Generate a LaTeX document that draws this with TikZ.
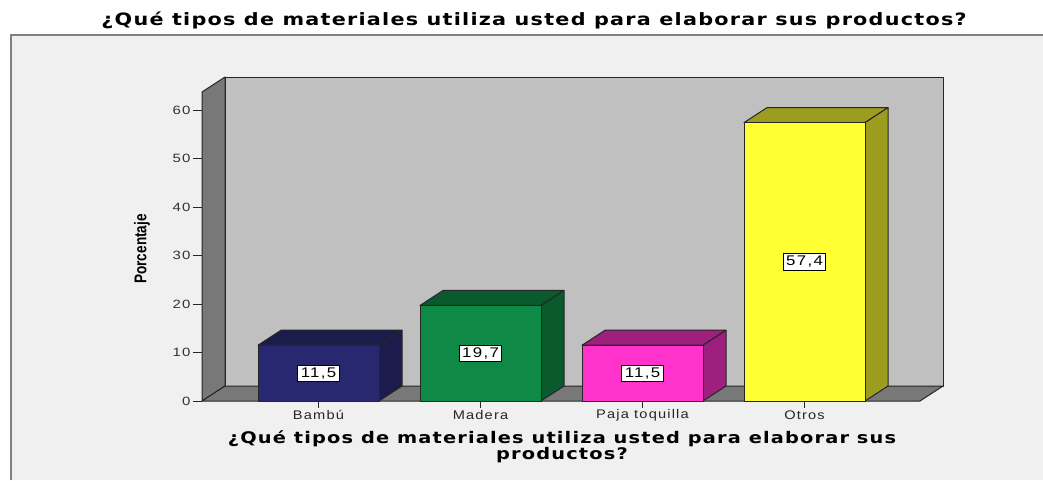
\documentclass[tikz,border=0pt]{standalone}
\usepackage{fontspec}
\setmainfont{Liberation Sans}
\newfontfamily\verd[LetterSpace=6]{DejaVu Sans}
\newfontfamily\arsp[LetterSpace=8]{Liberation Sans}
\definecolor{bgc}{HTML}{F0F0F0}
\definecolor{framec}{HTML}{808080}
\definecolor{wallc}{HTML}{C0C0C0}
\definecolor{sidewall}{HTML}{787878}
\definecolor{bambuF}{HTML}{282870}
\definecolor{bambuS}{HTML}{1C1C4C}
\definecolor{maderaF}{HTML}{0E8A46}
\definecolor{maderaS}{HTML}{0A5A2E}
\definecolor{pajaF}{HTML}{FF33CC}
\definecolor{pajaS}{HTML}{9E1F7E}
\definecolor{otrosF}{HTML}{FFFF33}
\definecolor{otrosS}{HTML}{9C9C1E}
\tikzset{
  face/.style={draw=black!85, line width=1pt, line join=round},
  valbox/.style={draw=black, fill=white, line width=0.8pt, inner xsep=2.5pt, inner ysep=2.5pt, xscale=1.2, font=\arsp\fontsize{14}{14}\selectfont},
  ticklab/.style={anchor=east, inner sep=1pt, xscale=1.25, font=\arsp\fontsize{12}{12}\selectfont, text=black!80},
  catlab/.style={xscale=1.17, font=\arsp\fontsize{12.5}{12.5}\selectfont, text=black!85},
}
\newcommand{\drawbar}[6]{% L, value, front, side, label, name
  \pgfmathsetmacro{\T}{401-#2*4.85}
  \fill[#4,face] (#1,\T) -- (#1+23,\T-15) -- (#1+144,\T-15) -- (#1+121,\T) -- cycle;
  \fill[#4,face] (#1+121,\T) -- (#1+144,\T-15) -- (#1+144,386) -- (#1+121,401) -- cycle;
  \fill[#3,face] (#1,\T) rectangle (#1+121,401);
  \node[valbox] (#6) at (#1+60.5,{(\T+401)/2}) {#5};
}
\begin{document}
\begin{tikzpicture}[x=1pt,y=-1pt]
\useasboundingbox (0,0) rectangle (1043,480);
\fill[white] (0,0) rectangle (1043,480);
\fill[bgc] (11,35) rectangle (1043,480);
\draw[framec, line width=2pt] (11,480) -- (11,35) -- (1043,35);
% title
\node[xscale=1.22, font=\verd\bfseries\fontsize{17}{17}\selectfont] (title) at (534,20) {¿Qué tipos de materiales utiliza usted para elaborar sus productos?};
% walls
\fill[wallc,face] (225,77) rectangle (943,386);
\fill[sidewall,face] (202,401) -- (202,92) -- (225,77) -- (225,386) -- cycle;
\fill[sidewall,face] (202,401) -- (225,386) -- (943,386) -- (920,401) -- cycle;
% y ticks
\foreach \v in {0,10,...,60}{
  \draw[black!85, line width=1pt] (193,{401-\v*4.85}) -- (202,{401-\v*4.85});
  \node[ticklab] (t\v) at (192,{401-\v*4.85}) {\v};
}
% bars
\drawbar{258}{11.5}{bambuF}{bambuS}{11,5}{v1}
\drawbar{420}{19.7}{maderaF}{maderaS}{19,7}{v2}
\drawbar{582}{11.5}{pajaF}{pajaS}{11,5}{v3}
\drawbar{744}{57.4}{otrosF}{otrosS}{57,4}{v4}
% category ticks and labels
\foreach \x/\lab/\n in {318.5/Bambú/c1,480.5/Madera/c2,642.5/Paja toquilla/c3,804.5/Otros/c4}{
  \draw[black!85, line width=1pt] (\x,401) -- (\x,408);
  \node[catlab] (\n) at (\x,415) {\lab};
}
% axis titles
\node[xscale=1.21, font=\verd\bfseries\fontsize{16}{14.5}\selectfont, align=center] (xt) at (562,447) {¿Qué tipos de materiales utiliza usted para elaborar sus\\productos?};
\node[font=\bfseries\fontsize{17}{17}\selectfont, rotate=90, xscale=0.8] (yt) at (142,249) {Porcentaje};
\end{tikzpicture}
\end{document}
